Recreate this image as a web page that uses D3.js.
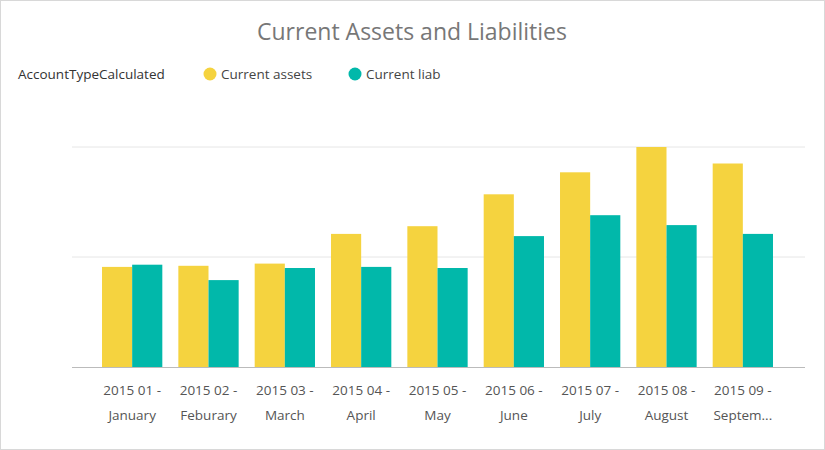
<html>
<head>
<script src="https://d3js.org/d3.v7.min.js"></script>
<style>
  body { margin: 0; background: #fff; font-family: "Open Sans", "DejaVu Sans", sans-serif; }
</style>
</head>
<body>
<script>
var months = ["2015 01 - January", "2015 02 - Feburary", "2015 03 - March", "2015 04 - April", "2015 05 - May",
              "2015 06 - June", "2015 07 - July", "2015 08 - August", "2015 09 - Septem..."];
var assets = [0.91, 0.92, 0.94, 1.21, 1.28, 1.57, 1.77, 2.0, 1.85];
var liab = [0.93, 0.79, 0.90, 0.91, 0.90, 1.19, 1.38, 1.29, 1.21];
var series = ["Current assets", "Current liab"];
var colors = ["#F5D33F", "#01B8AA"];

var width = 825, height = 450;
var svg = d3.select("body").append("svg").attr("width", width).attr("height", height);

svg.append("rect").attr("x", 0.5).attr("y", 0.5).attr("width", width - 1).attr("height", height - 1)
    .attr("fill", "#fff").attr("stroke", "#d8d8d8");

svg.append("text").attr("x", 412).attr("y", 40).attr("text-anchor", "middle")
    .attr("font-size", 23).attr("fill", "#777").text("Current Assets and Liabilities");

// legend
var lg = svg.append("g").attr("transform", "translate(18,79)");
lg.append("text").attr("x", 0).attr("y", 0).attr("font-size", 13.5).attr("fill", "#333")
    .text("AccountTypeCalculated");
var lx = [192, 337];
series.forEach(function (s, i) {
    lg.append("circle").attr("cx", lx[i]).attr("cy", -5).attr("r", 6.5).attr("fill", colors[i]);
    lg.append("text").attr("x", lx[i] + 11).attr("y", 0).attr("font-size", 13.5).attr("fill", "#444").text(s);
});

var y = d3.scaleLinear().domain([0, 2]).range([367, 147]);
var x0 = d3.scaleBand().domain(months).range([94, 781]).paddingInner(0.21).paddingOuter(0.105);
var x1 = d3.scaleBand().domain(series).range([0, x0.bandwidth()]);

// gridlines
svg.append("g").selectAll("line").data([1, 2]).enter().append("line")
    .attr("x1", 72).attr("x2", 805).attr("y1", function (d) { return y(d); }).attr("y2", function (d) { return y(d); })
    .attr("stroke", "#e6e6e6");

var g = svg.append("g").selectAll("g").data(months).enter().append("g")
    .attr("transform", function (d) { return "translate(" + x0(d) + ",0)"; });
g.selectAll("rect").data(function (d, i) { return [assets[i], liab[i]]; }).enter().append("rect")
    .attr("x", function (d, j) { return x1(series[j]); })
    .attr("width", x1.bandwidth())
    .attr("y", function (d) { return y(d); })
    .attr("height", function (d) { return y(0) - y(d); })
    .attr("fill", function (d, j) { return colors[j]; });

svg.append("line").attr("x1", 72).attr("x2", 805).attr("y1", 367.5).attr("y2", 367.5).attr("stroke", "#bbb");

// tick labels
var ticks = svg.append("g").selectAll("text").data(months).enter().append("text")
    .attr("text-anchor", "middle").attr("font-size", 13.5).attr("fill", "#555")
    .attr("transform", function (d) { return "translate(" + (x0(d) + x0.bandwidth() / 2) + ",0)"; });
ticks.append("tspan").attr("x", 0).attr("y", 395).text(function (d) { return d.split(" - ")[0] + " -"; });
ticks.append("tspan").attr("x", 0).attr("y", 420).text(function (d) { return d.split(" - ")[1]; });
</script>
</body>
</html>
